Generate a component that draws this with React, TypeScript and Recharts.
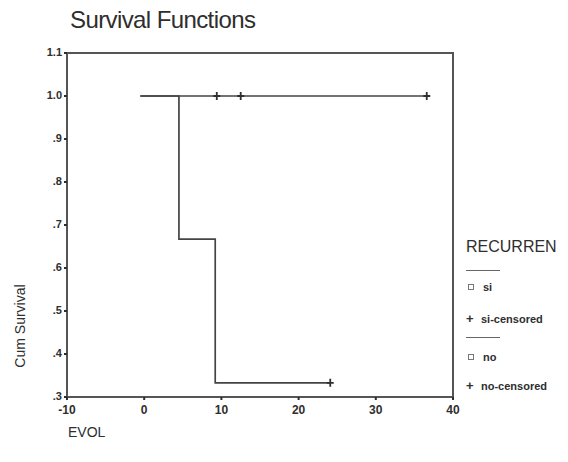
import { ComposedChart, Line, Scatter, XAxis, YAxis, ReferenceArea } from "recharts";

// step curves: time (EVOL) vs cumulative survival
const siCurve = [
  { x: -0.5, y: 1.0 },
  { x: 4.5, y: 0.667 },
  { x: 9.2, y: 0.333 },
  { x: 24.1, y: 0.333 },
];
const noCurve = [
  { x: -0.5, y: 1.0 },
  { x: 36.6, y: 1.0 },
];
const siCensored = [{ x: 24.1, y: 0.333 }];
const noCensored = [
  { x: 9.4, y: 1.0 },
  { x: 12.5, y: 1.0 },
  { x: 36.6, y: 1.0 },
];

const xTicks = [-10, 0, 10, 20, 30, 40];
const yTicks = [0.3, 0.4, 0.5, 0.6, 0.7, 0.8, 0.9, 1.0, 1.1];

const INK = "#2e2e2e";
const FONT = '"Liberation Sans", Arial, sans-serif';

const fmtY = (v: number) => (v >= 1 ? v.toFixed(1) : v.toFixed(1).replace(/^0/, ""));

function Plus(props: any) {
  const { cx, cy } = props;
  return (
    <path
      d={`M${cx - 3.5},${cy} H${cx + 3.5} M${cx},${cy - 4} V${cy + 4}`}
      stroke={INK}
      strokeWidth={1.8}
      fill="none"
    />
  );
}

function XTick(props: any) {
  const { x, y, payload } = props;
  return (
    <text x={x} y={y + 12} textAnchor="middle" fill={INK} fontSize={12} fontWeight={700} fontFamily={FONT}>
      {payload.value}
    </text>
  );
}

function LegendRow({ top, mark, label }: { top: number; mark: string; label: string }) {
  return (
    <div style={{ position: "absolute", left: 466, top, display: "flex", alignItems: "center" }}>
      {mark === "box" ? (
        <div style={{ width: 4, height: 4, border: "1px solid #777", marginLeft: 2, marginRight: 9 }} />
      ) : (
        <div style={{ width: 12, fontSize: 13, fontWeight: 700, color: INK, marginRight: 3, lineHeight: "12px" }}>+</div>
      )}
      <span style={{ fontSize: 11, fontWeight: 700, color: INK, lineHeight: "12px" }}>{label}</span>
    </div>
  );
}

export default function App() {
  return (
    <div
      style={{
        position: "absolute",
        left: 0,
        top: 0,
        width: 568,
        height: 462,
        background: "#fff",
        fontFamily: FONT,
        color: INK,
      }}
    >
      <div style={{ position: "absolute", left: 70, top: 6, fontSize: 24, letterSpacing: -0.6 }}>
        Survival Functions
      </div>

      <ComposedChart
        width={568}
        height={462}
        margin={{ top: 53, right: 115, bottom: 35, left: 27 }}
        style={{ position: "absolute", left: 0, top: 0 }}
      >
        <XAxis
          type="number"
          dataKey="x"
          domain={[-10, 40]}
          ticks={xTicks}
          height={30}
          tickSize={3}
          tickLine={{ stroke: INK, strokeWidth: 2 }}
          axisLine={{ stroke: "#555", strokeWidth: 2 }}
          tick={<XTick />}
        />
        <YAxis
          type="number"
          domain={[0.3, 1.1]}
          ticks={yTicks}
          tickFormatter={fmtY}
          width={40}
          tickSize={3}
          tickLine={{ stroke: INK, strokeWidth: 2 }}
          axisLine={{ stroke: "#555", strokeWidth: 2 }}
          tick={{ fill: INK, fontSize: 11, fontWeight: 700, fontFamily: FONT, dy: -1 }}
          allowDataOverflow
        />
        <ReferenceArea x1={-10} x2={40} y1={0.3} y2={1.1} fill="none" stroke="#555" strokeWidth={2} />
        <Line
          data={siCurve}
          dataKey="y"
          type="stepAfter"
          stroke="#444"
          strokeWidth={1.7}
          dot={false}
          isAnimationActive={false}
        />
        <Line
          data={noCurve}
          dataKey="y"
          type="stepAfter"
          stroke="#444"
          strokeWidth={1.7}
          dot={false}
          isAnimationActive={false}
        />
        <Scatter data={siCensored} dataKey="y" shape={<Plus />} isAnimationActive={false} />
        <Scatter data={noCensored} dataKey="y" shape={<Plus />} isAnimationActive={false} />
      </ComposedChart>

      <div
        style={{
          position: "absolute",
          left: 20,
          top: 326,
          transform: "translate(-50%, -50%) rotate(-90deg)",
          fontSize: 14,
          whiteSpace: "nowrap",
        }}
      >
        Cum Survival
      </div>
      <div style={{ position: "absolute", left: 68, top: 424, fontSize: 14 }}>EVOL</div>

      <div style={{ position: "absolute", left: 466, top: 238, fontSize: 16 }}>RECURREN</div>
      <div style={{ position: "absolute", left: 466, top: 270, width: 34, height: 1, background: "#666" }} />
      <LegendRow top={281} mark="box" label="si" />
      <LegendRow top={313} mark="plus" label="si-censored" />
      <div style={{ position: "absolute", left: 466, top: 337, width: 34, height: 1, background: "#666" }} />
      <LegendRow top={351} mark="box" label="no" />
      <LegendRow top={380} mark="plus" label="no-censored" />
    </div>
  );
}
